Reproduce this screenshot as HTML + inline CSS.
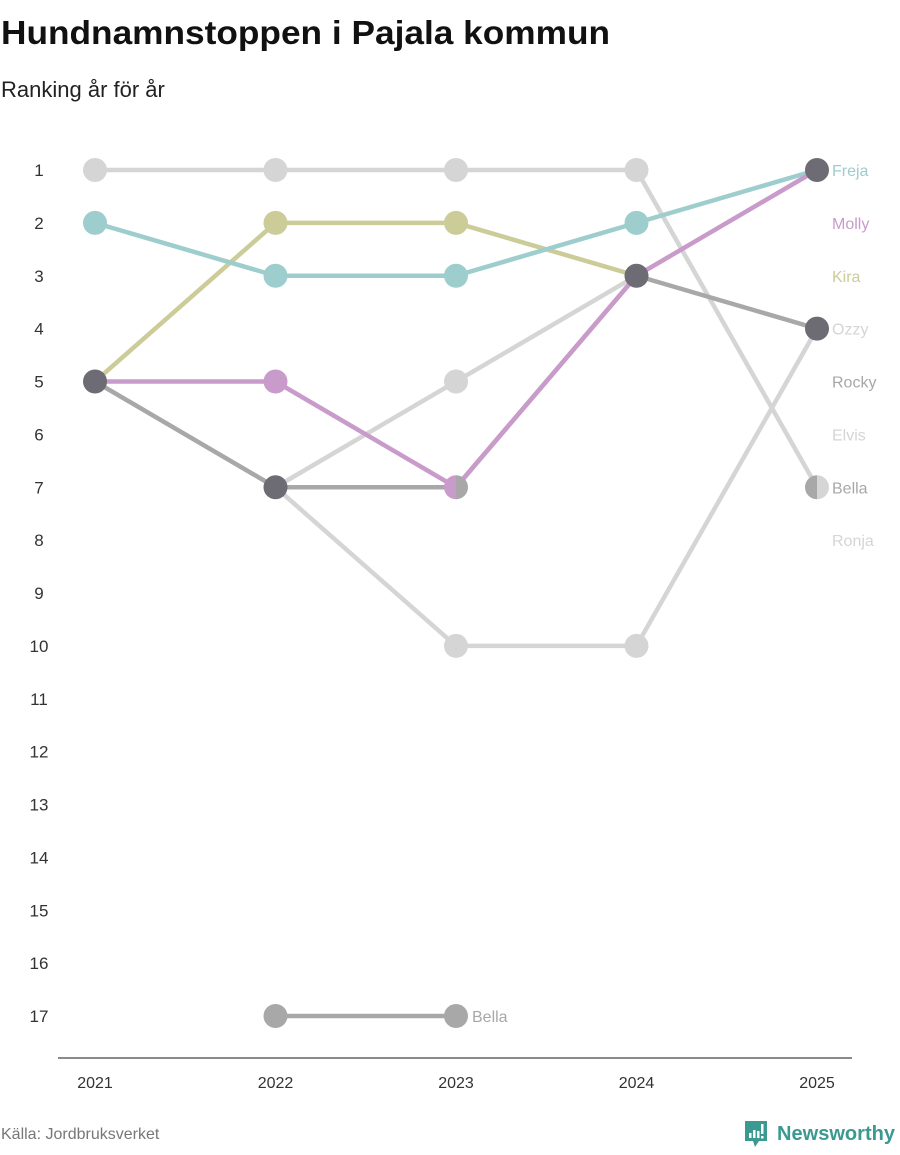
<!DOCTYPE html>
<html><head><meta charset="utf-8"><style>
body{margin:0;background:#fff;font-family:"Liberation Sans",sans-serif;}
</style></head><body>
<svg id="chart" width="900" height="1150" xmlns="http://www.w3.org/2000/svg" font-family="Liberation Sans, sans-serif">
<text x="1" y="44" font-size="33" font-weight="bold" fill="#111" textLength="609" lengthAdjust="spacingAndGlyphs">Hundnamnstoppen i Pajala kommun</text>
<text x="1" y="97" font-size="22" fill="#222">Ranking år för år</text>
<line x1="58" y1="1058" x2="852" y2="1058" stroke="#444" stroke-width="1.2"/>
<g id="yticks"></g><g id="xticks"></g><g id="lines"></g><g id="points"></g><g id="labels"></g>
<text x="1" y="1139" font-size="16" fill="#777">Källa: Jordbruksverket</text>
<g>
<path d="M745 1121 h22 v20 h-8 l-4 6 l-2 -6 h-8 z" fill="#3a9a8f"/>
<rect x="749" y="1133" width="2.5" height="5" fill="#fff"/><rect x="753" y="1130" width="2.5" height="8" fill="#fff"/><rect x="757" y="1131" width="2.5" height="7" fill="#fff"/><rect x="761" y="1124" width="2.5" height="10" fill="#fff"/><rect x="761" y="1136" width="2.5" height="2.5" fill="#fff"/>
<text x="777" y="1140" font-size="20" fill="#3a9a8f" font-weight="bold" textLength="118" lengthAdjust="spacingAndGlyphs">Newsworthy</text>
</g>
</svg>
<script>
const years=[2021,2022,2023,2024,2025];
const rankTicks=[1,2,3,4,5,6,7,8,9,10,11,12,13,14,15,16,17];
const names=["Ronja","Ozzy","Elvis","Bella","Rocky","Kira","Freja","Molly"];
const colors=["#d5d5d5","#d5d5d5","#d5d5d5","#a8a8a8","#a8a8a8","#cccc99","#9dcdcc","#c99bcb"];
const ronja=[1,1,1,1,7];
const ozzy=[null,7,10,10,4];
const elvis=[null,7,5,3,null];
const bella=[null,17,17,null,7];
const rocky=[5,7,7,3,4];
const kira=[5,2,2,3,null];
const freja=[2,3,3,2,1];
const molly=[5,5,7,3,1];
const series=[ronja,ozzy,elvis,bella,rocky,kira,freja,molly];
const legendNames=["Freja","Molly","Kira","Ozzy","Rocky","Elvis","Bella","Ronja"];
const legendColors=["#9dcdcc","#c99bcb","#cccc99","#d5d5d5","#a8a8a8","#d5d5d5","#a8a8a8","#d5d5d5"];
const splitYears=[2023,2025];
const splitRanks=[7,7];
const x=y=>95+(y-2021)*180.5;
const yr=r=>170+(r-1)*52.875;
const NS="http://www.w3.org/2000/svg";
function mk(t,a,p){const e=document.createElementNS(NS,t);for(const k in a)e.setAttribute(k,a[k]);document.getElementById(p).appendChild(e);return e;}
rankTicks.forEach(r=>{const t=mk("text",{x:39,y:yr(r)+6,"font-size":17,fill:"#333","text-anchor":"middle"},"yticks");

t.textContent=r;});
years.forEach(y=>{const t=mk("text",{x:x(y),y:1088,"font-size":16,fill:"#333","text-anchor":"middle"},"xticks");

t.textContent=y;});
series.forEach((s,i)=>{for(let j=0;j<s.length-1;j++){if(s[j]==null||s[j+1]==null)continue;
const l=mk("line",{x1:x(years[j]),y1:yr(s[j]),x2:x(years[j+1]),y2:yr(s[j+1]),stroke:colors[i],"stroke-width":4.5},"lines");

}});
const pts={};
series.forEach((s,i)=>s.forEach((r,j)=>{if(r==null)return;const k=years[j]+"_"+r;(pts[k]=pts[k]||[]).push(i);}));
Object.keys(pts).forEach(k=>{const [yy,rr]=k.split("_").map(Number);const idx=pts[k];const cx=x(yy),cy=yr(rr),R=12;
let split=splitYears.some((v,i)=>v===yy&&splitRanks[i]===rr);
if(idx.length===1){const c=mk("circle",{cx,cy,r:R,fill:colors[idx[0]]},"points");

}
else if(split){const a=colors[idx[idx.length-1]],b=colors[idx[0]];
const p1=mk("path",{d:`M${cx} ${cy-R}A${R} ${R} 0 0 0 ${cx} ${cy+R}Z`,fill:a},"points");


const p2=mk("path",{d:`M${cx} ${cy-R}A${R} ${R} 0 0 1 ${cx} ${cy+R}Z`,fill:b},"points");

}
else{const c=mk("circle",{cx,cy,r:R,fill:"#6d6c74"},"points");

}});
legendNames.forEach((n,i)=>{const t=mk("text",{x:832,y:yr(i+1)+6,"font-size":16,fill:legendColors[i]},"labels");

t.textContent=n;});
const bl=mk("text",{x:x(2023)+16,y:yr(17)+6,"font-size":16,fill:"#a8a8a8"},"labels");

bl.textContent="Bella";
</script>
</body></html>
